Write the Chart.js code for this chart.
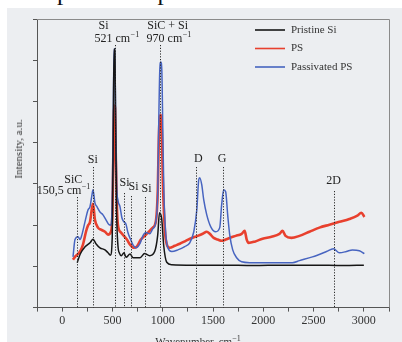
<!DOCTYPE html>
<html><head><meta charset="utf-8">
<script src="https://cdn.jsdelivr.net/npm/chart.js@4.4.1/dist/chart.umd.min.js"></script>
<style>
html,body{margin:0;padding:0;background:#fff;width:402px;height:342px;overflow:hidden;position:relative;font-family:"Liberation Serif",serif;}
#caption{position:absolute;left:-2px;top:-21px;font-size:25px;line-height:26px;color:#111;white-space:nowrap;}
#panel{position:absolute;left:7px;top:8px;right:0;bottom:0;background:#eceef1;}
#c{position:absolute;left:0;top:0;}
.t{position:absolute;color:#333;font-size:11px;white-space:nowrap;line-height:12px;}
#ytitle{left:18px;top:149px;transform:translate(-50%,-50%) rotate(-90deg);}
#xtitle{left:198px;top:341px;transform:translate(-50%,-50%);}
sup{font-size:8px;vertical-align:4px;line-height:0;}
</style></head><body>
<div id="caption">ии пористого кремния и плазм</div>
<div id="panel"></div>
<canvas id="c" width="402" height="342"></canvas>
<div class="t" id="ytitle">Intensity, a.u.</div>
<div class="t" id="xtitle">Wavenumber, cm<sup>−1</sup></div>
<script>
// ---- data ----
const seriesNames = ["Pristine Si", "PS", "Passivated PS"];

const pristineX = [150, 180, 230, 280, 307, 336, 376, 426, 456, 480, 498, 508, 516, 524, 532, 542, 555, 570, 590, 615, 635, 675, 705, 775, 820, 870, 920, 950, 968, 990, 1010, 1040, 1090, 1300, 1600, 1900, 2200, 2500, 2800, 3000];
const pristineY = [1.09, 1.30, 1.48, 1.58, 1.66, 1.55, 1.45, 1.40, 1.33, 1.27, 1.70, 4.20, 6.27, 6.25, 4.40, 2.30, 1.50, 1.32, 1.26, 1.33, 1.22, 1.30, 1.21, 1.21, 1.31, 1.26, 1.36, 1.75, 2.30, 2.15, 1.50, 1.10, 1.04, 1.03, 1.03, 1.02, 1.03, 1.03, 1.02, 1.03];

const psX = [108, 138, 178, 207, 237, 257, 277, 297, 307, 326, 356, 386, 426, 456, 485, 500, 510, 518, 526, 534, 545, 555, 585, 614, 644, 674, 713, 743, 783, 822, 862, 901, 931, 951, 961, 971, 981, 991, 1001, 1021, 1041, 1070, 1120, 1170, 1229, 1289, 1348, 1398, 1438, 1468, 1507, 1547, 1586, 1626, 1666, 1726, 1785, 1815, 1835, 1855, 1914, 1993, 2082, 2161, 2191, 2221, 2280, 2360, 2459, 2558, 2657, 2757, 2856, 2935, 2975, 3005];
const psY = [1.16, 1.26, 1.36, 1.53, 1.84, 1.99, 2.08, 2.42, 2.52, 2.13, 1.94, 1.89, 1.84, 1.77, 1.84, 2.30, 3.90, 4.90, 4.85, 3.60, 2.40, 2.00, 1.82, 1.74, 1.65, 1.53, 1.45, 1.48, 1.65, 1.74, 1.84, 1.94, 2.08, 2.86, 4.07, 4.62, 4.67, 4.31, 3.10, 1.89, 1.53, 1.45, 1.50, 1.55, 1.62, 1.69, 1.74, 1.79, 1.84, 1.79, 1.69, 1.65, 1.62, 1.65, 1.69, 1.74, 1.79, 1.86, 1.65, 1.57, 1.60, 1.67, 1.72, 1.79, 1.86, 1.74, 1.69, 1.74, 1.84, 1.94, 2.01, 2.08, 2.15, 2.23, 2.30, 2.20];

const passX = [108, 128, 158, 178, 197, 227, 257, 277, 297, 307, 326, 346, 376, 406, 436, 466, 485, 498, 508, 516, 524, 532, 542, 555, 575, 594, 614, 634, 654, 674, 703, 733, 773, 803, 832, 871, 901, 931, 951, 961, 971, 981, 991, 1001, 1011, 1031, 1051, 1090, 1150, 1219, 1269, 1309, 1339, 1358, 1368, 1388, 1408, 1438, 1478, 1527, 1567, 1586, 1606, 1626, 1646, 1666, 1696, 1735, 1785, 1864, 2000, 2150, 2290, 2360, 2489, 2628, 2697, 2757, 2826, 2886, 2955, 3005];
const passY = [1.23, 1.65, 1.72, 1.65, 1.77, 2.08, 2.37, 2.45, 2.74, 2.86, 2.54, 2.45, 2.32, 2.25, 2.13, 2.01, 2.00, 2.60, 4.50, 6.27, 6.27, 4.60, 3.00, 2.60, 2.45, 2.18, 2.08, 2.03, 1.82, 1.69, 1.53, 1.45, 1.55, 1.74, 1.82, 1.79, 1.91, 2.08, 2.86, 4.55, 5.76, 5.96, 5.76, 4.31, 2.86, 1.77, 1.45, 1.36, 1.40, 1.48, 1.57, 1.84, 2.37, 3.10, 3.15, 2.98, 2.61, 2.25, 1.96, 1.84, 1.94, 2.49, 2.86, 2.81, 2.25, 1.77, 1.40, 1.21, 1.11, 1.09, 1.09, 1.09, 1.09, 1.14, 1.23, 1.36, 1.43, 1.33, 1.36, 1.40, 1.38, 1.31];

const markerWavenumbers = [150.5, 305, 521, 620, 680, 820, 970, 1335, 1600, 2700];
const markerLabels = [["SiC", "150,5 cm"], ["Si"], ["Si", "521 cm"], ["Si"], ["Si"], ["Si"], ["SiC + Si", "970 cm"], ["D"], ["G"], ["2D"]];

const xTickStep = 250;
const xLabelStep = 500;

const colors = ["#161616", "#e8402e", "#4764c0"];
function pts(xs, ys) { return xs.map((x, i) => ({ x: x, y: ys[i] })); }
const SERIF = '"Liberation Serif", "DejaVu Serif", serif';

const markerStyle = [
  { top: 197, lines: [{ dx: -4, y: 180 }, { dx: -14, y: 191, sup: true }] },
  { top: 167, lines: [{ dx: 0, y: 160 }] },
  { top: 45, lines: [{ dx: -11, y: 26 }, { dx: 2, y: 39, sup: true }] },
  { top: 193, lines: [{ dx: 0, y: 183 }] },
  { top: 196, lines: [{ dx: 3, y: 187 }] },
  { top: 197, lines: [{ dx: 2, y: 189 }] },
  { top: 45, lines: [{ dx: 8, y: 26 }, { dx: 9, y: 39, sup: true }] },
  { top: 167, lines: [{ dx: 2, y: 159 }] },
  { top: 167, lines: [{ dx: -1, y: 159 }] },
  { top: 191, lines: [{ dx: 0, y: 181 }] }
];

function drawText(ctx, txt, x, y, sup) {
  ctx.font = '12px ' + SERIF;
  const w = ctx.measureText(txt).width;
  let sw = 0;
  if (sup) { ctx.font = '8px ' + SERIF; sw = ctx.measureText('−1').width; }
  const left = x - (w + sw) / 2;
  ctx.font = '12px ' + SERIF;
  ctx.textAlign = 'left';
  ctx.textBaseline = 'middle';
  ctx.fillText(txt, left, y);
  if (sup) { ctx.font = '8px ' + SERIF; ctx.fillText('−1', left + w + 0.5, y - 4); }
}

const decor = {
  id: 'decor',
  afterDatasetsDraw(chart) {
    const ctx = chart.ctx, xs = chart.scales.x, a = chart.chartArea;
    ctx.save();
    ctx.strokeStyle = '#8a8a8a'; ctx.lineWidth = 1;
    ctx.beginPath();
    ctx.moveTo(a.left, a.top + 0.5); ctx.lineTo(a.right + 0.5, a.top + 0.5); ctx.lineTo(a.right + 0.5, a.bottom);
    ctx.stroke();
    ctx.strokeStyle = '#2a2a2a'; ctx.lineWidth = 1; ctx.setLineDash([1.2, 1.6]);
    markerWavenumbers.forEach((v, i) => {
      const px = Math.round(xs.getPixelForValue(v)) + 0.5;
      ctx.beginPath(); ctx.moveTo(px, markerStyle[i].top); ctx.lineTo(px, a.bottom); ctx.stroke();
    });
    ctx.setLineDash([]);
    ctx.fillStyle = '#222';
    markerWavenumbers.forEach((v, i) => {
      const px = xs.getPixelForValue(v);
      markerLabels[i].forEach((txt, j) => {
        const st = markerStyle[i].lines[j];
        drawText(ctx, txt, px + st.dx, st.y, !!st.sup);
      });
    });
    seriesNames.forEach((name, i) => {
      const ds = chart.data.datasets.find(d => d.label === name);
      const y = a.top + 11 + i * 18.5;
      ctx.strokeStyle = ds.borderColor; ctx.lineWidth = 1.6;
      ctx.beginPath(); ctx.moveTo(a.right - 134, y); ctx.lineTo(a.right - 104, y); ctx.stroke();
      ctx.fillStyle = '#333'; ctx.font = '11px ' + SERIF; ctx.textAlign = 'left'; ctx.textBaseline = 'middle';
      ctx.fillText(name, a.right - 98, y);
    });
    ctx.restore();
  }
};

new Chart(document.getElementById('c'), {
  type: 'scatter',
  data: {
    datasets: [
      { label: seriesNames[0], data: pts(pristineX, pristineY), borderColor: colors[0], borderWidth: 1.5 },
      { label: seriesNames[2], data: pts(passX, passY), borderColor: colors[2], borderWidth: 1.5 },
      { label: seriesNames[1], data: pts(psX, psY), borderColor: colors[1], borderWidth: 2.6 }
    ].map(d => Object.assign(d, { showLine: true, pointRadius: 0, fill: false, cubicInterpolationMode: 'monotone' }))
  },
  options: {
    responsive: false, animation: false, devicePixelRatio: 1,
    layout: { padding: { left: 33, top: 19, right: 13, bottom: 12 } },
    plugins: { legend: { display: false }, tooltip: { enabled: false } },
    scales: {
      x: {
        type: 'linear', min: -250, max: 3250,
        ticks: { stepSize: xTickStep, autoSkip: false, maxRotation: 0, padding: 2, color: '#333',
          font: { family: SERIF, size: 12 },
          callback: v => (v % xLabelStep === 0 && v >= 0 && v <= 3000) ? String(v) : '' },
        grid: { drawOnChartArea: false, drawTicks: true, tickLength: 4, color: '#555' },
        border: { color: '#555', width: 1 }
      },
      y: {
        min: 0, max: 7,
        ticks: { display: false, stepSize: 1 },
        grid: { drawOnChartArea: false, drawTicks: true, tickLength: 4, color: '#555' },
        border: { color: '#555', width: 1 }
      }
    }
  },
  plugins: [decor]
});
</script>
</body></html>
